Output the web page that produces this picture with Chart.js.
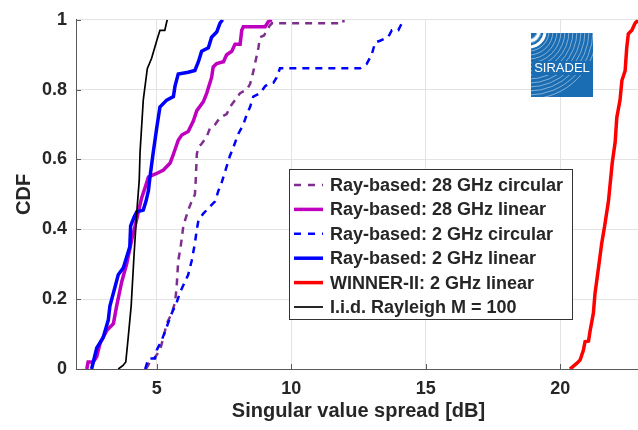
<!DOCTYPE html>
<html>
<head>
<meta charset="utf-8">
<script src="https://cdn.jsdelivr.net/npm/chart.js@4"></script>
<style>
  html, body { margin: 0; padding: 0; background: #fff; overflow: hidden; }
  #wrap { width: 642px; height: 430px; }
</style>
</head>
<body>
<div id="wrap"><canvas id="cdfChart" width="642" height="430"></canvas></div>
<script>
// Axis ticks
const xTicks = [5, 10, 15, 20];
const yTicks = [0, 0.2, 0.4, 0.6, 0.8, 1];

// Ray-based: 28 GHz circular
const ray28CircX = [4.6, 4.75, 4.95, 5.12, 5.25, 5.37, 5.56, 5.68, 5.74, 5.8, 5.89, 5.99, 6.05, 6.17, 6.3, 6.42, 6.45, 6.49, 6.55, 6.67, 6.86, 6.98, 7.17, 7.35, 7.6, 7.72, 7.91, 8.1, 8.35, 8.47, 8.57, 8.65, 8.78, 8.84, 8.99, 9.09, 9.21, 9.28, 11.94, 11.94];
const ray28CircY = [0, 0.02, 0.035, 0.054, 0.09, 0.13, 0.16, 0.19, 0.235, 0.31, 0.35, 0.41, 0.425, 0.455, 0.48, 0.5, 0.54, 0.615, 0.635, 0.645, 0.665, 0.69, 0.7, 0.72, 0.73, 0.75, 0.77, 0.79, 0.8, 0.816, 0.845, 0.873, 0.92, 0.95, 0.955, 0.97, 0.984, 0.99, 0.99, 1];

// Ray-based: 28 GHz linear
const ray28LinX = [2.4, 2.45, 2.64, 2.77, 2.9, 3.14, 3.39, 3.51, 3.7, 3.88, 4.07, 4.26, 4.44, 4.57, 4.69, 5.0, 5.25, 5.5, 5.62, 5.8, 5.93, 6.17, 6.36, 6.49, 6.73, 6.86, 7.04, 7.1, 7.23, 7.48, 7.6, 7.79, 7.91, 8.1, 8.16, 8.22, 9.03, 9.15, 9.28];
const ray28LinY = [0, 0.02, 0.02, 0.035, 0.075, 0.11, 0.13, 0.18, 0.25, 0.3, 0.37, 0.43, 0.49, 0.52, 0.55, 0.56, 0.57, 0.59, 0.615, 0.655, 0.67, 0.68, 0.71, 0.74, 0.765, 0.79, 0.835, 0.865, 0.875, 0.88, 0.9, 0.91, 0.93, 0.93, 0.97, 0.98, 0.98, 0.995, 1];

// Ray-based: 2 GHz circular
const ray2CircX = [4.57, 4.69, 4.94, 5.0, 5.19, 5.37, 5.56, 5.74, 5.87, 6.05, 6.17, 6.3, 6.42, 6.49, 6.55, 6.73, 6.98, 7.17, 7.29, 7.4, 7.48, 7.6, 7.72, 7.85, 8.03, 8.22, 8.35, 8.47, 8.59, 8.84, 9.03, 9.15, 9.34, 9.46, 9.58, 12.56, 12.8, 12.99, 13.12, 13.3, 13.6, 13.74, 13.98, 14.17];
const ray2CircY = [0, 0.03, 0.03, 0.054, 0.083, 0.12, 0.16, 0.19, 0.22, 0.25, 0.27, 0.31, 0.36, 0.4, 0.425, 0.445, 0.465, 0.48, 0.51, 0.53, 0.55, 0.58, 0.61, 0.635, 0.673, 0.7, 0.73, 0.75, 0.78, 0.79, 0.81, 0.816, 0.82, 0.835, 0.861, 0.861, 0.873, 0.9, 0.935, 0.94, 0.95, 0.97, 0.97, 1];

// Ray-based: 2 GHz linear
const ray2LinX = [2.58, 2.77, 3.01, 3.2, 3.26, 3.45, 3.57, 3.76, 3.88, 4.0, 4.03, 4.16, 4.26, 4.5, 4.6, 4.69, 4.75, 4.87, 5.0, 5.12, 5.37, 5.62, 5.68, 5.8, 6.17, 6.42, 6.55, 6.67, 6.92, 7.04, 7.23, 7.35, 7.45];
const ray2LinY = [0, 0.06, 0.09, 0.14, 0.18, 0.235, 0.27, 0.29, 0.32, 0.35, 0.41, 0.435, 0.45, 0.455, 0.48, 0.51, 0.55, 0.62, 0.69, 0.75, 0.77, 0.78, 0.81, 0.845, 0.85, 0.855, 0.88, 0.91, 0.92, 0.95, 0.965, 0.99, 1];

// WINNER-II: 2 GHz linear
const winnerX = [20.36, 20.61, 20.74, 20.86, 20.92, 21.05, 21.11, 21.23, 21.29, 21.42, 21.54, 21.65, 21.79, 21.93, 22.04, 22.1, 22.22, 22.29, 22.41, 22.47, 22.53, 22.66, 22.78, 22.9];
const winnerY = [0, 0.016, 0.026, 0.054, 0.078, 0.08, 0.11, 0.16, 0.216, 0.29, 0.36, 0.41, 0.48, 0.59, 0.65, 0.72, 0.77, 0.826, 0.854, 0.92, 0.96, 0.97, 0.99, 1];

// I.i.d. Rayleigh M = 100
const rayleighX = [3.57, 3.75, 3.85, 3.94, 4.05, 4.16, 4.26, 4.35, 4.38, 4.5, 4.65, 4.81, 5.0, 5.12, 5.3, 5.39];
const rayleighY = [0, 0.01, 0.02, 0.09, 0.18, 0.33, 0.45, 0.54, 0.62, 0.77, 0.86, 0.89, 0.94, 0.97, 0.97, 1];

const FONT = '"Liberation Sans", Arial, Helvetica, sans-serif';
const TEXT = '#262626';

function pts(xs, ys) {
  return xs.map((x, i) => ({ x: x, y: ys[i] }));
}

const series = [
  { label: 'Ray-based: 28 GHz circular', xs: ray28CircX, ys: ray28CircY, color: '#7e2f8e', width: 2.5, dash: [7, 6] },
  { label: 'Ray-based: 28 GHz linear', xs: ray28LinX, ys: ray28LinY, color: '#bf00bf', width: 3.5, dash: [] },
  { label: 'Ray-based: 2 GHz circular', xs: ray2CircX, ys: ray2CircY, color: '#0000ff', width: 2.5, dash: [7, 6] },
  { label: 'Ray-based: 2 GHz linear', xs: ray2LinX, ys: ray2LinY, color: '#0000ff', width: 3.5, dash: [] },
  { label: 'WINNER-II: 2 GHz linear', xs: winnerX, ys: winnerY, color: '#ff0000', width: 3.5, dash: [] },
  { label: 'I.i.d. Rayleigh M = 100', xs: rayleighX, ys: rayleighY, color: '#000000', width: 1.7, dash: [] }
];

// Matlab-like inward tick marks
const innerTicks = {
  id: 'innerTicks',
  afterDraw(chart) {
    const { ctx, chartArea, scales } = chart;
    ctx.save();
    ctx.strokeStyle = '#5a5a5a';
    ctx.lineWidth = 1;
    ctx.beginPath();
    yTicks.forEach(v => {
      const y = Math.round(scales.y.getPixelForValue(v)) + 0.5;
      ctx.moveTo(chartArea.left, y);
      ctx.lineTo(chartArea.left + 5, y);
    });
    xTicks.forEach(v => {
      const x = Math.round(scales.x.getPixelForValue(v)) + 0.5;
      ctx.moveTo(x, chartArea.bottom);
      ctx.lineTo(x, chartArea.bottom - 5);
    });
    ctx.stroke();
    ctx.restore();
  }
};

// Legend box drawn inside the plot, Matlab style
const insideLegend = {
  id: 'insideLegend',
  afterDraw(chart) {
    const ctx = chart.ctx;
    const x0 = 289, y0 = 169, w = 283, h = 150;
    ctx.save();
    ctx.fillStyle = '#fff';
    ctx.fillRect(x0, y0, w, h);
    ctx.strokeStyle = '#333';
    ctx.lineWidth = 1;
    ctx.strokeRect(x0 + 0.5, y0 + 0.5, w, h);
    ctx.font = 'bold 18px ' + FONT;
    ctx.textBaseline = 'middle';
    ctx.fillStyle = TEXT;
    series.forEach((s, i) => {
      const cy = y0 + 16 + i * 24.4;
      ctx.beginPath();
      ctx.strokeStyle = s.color;
      ctx.lineWidth = s.width;
      ctx.setLineDash(s.dash.length ? [7, 7] : []);
      ctx.moveTo(x0 + 5, cy);
      ctx.lineTo(x0 + 34, cy);
      ctx.stroke();
      ctx.setLineDash([]);
      ctx.fillText(s.label, x0 + 41, cy + 1);
    });
    ctx.restore();
  }
};

// Small SIRADEL logo in the upper right
const logo = {
  id: 'logo',
  afterDatasetsDraw(chart) {
    const ctx = chart.ctx;
    const lx = 531, ly = 33, lw = 62, lh = 64;
    ctx.save();
    ctx.fillStyle = '#1b6db3';
    ctx.fillRect(lx, ly, lw, lh);
    ctx.beginPath();
    ctx.rect(lx, ly, lw, lh);
    ctx.clip();
    ctx.strokeStyle = 'rgba(255,255,255,0.45)';
    ctx.lineWidth = 1;
    for (let r = 8; r < 70; r += 4) {
      ctx.beginPath();
      ctx.arc(lx - 2, ly - 2, r, 0, Math.PI / 2);
      ctx.stroke();
    }
    ctx.strokeStyle = '#fff';
    ctx.lineWidth = 3;
    ctx.beginPath();
    ctx.arc(lx - 2, ly - 2, 10, 0, Math.PI / 2);
    ctx.stroke();
    ctx.beginPath();
    ctx.arc(lx - 2, ly - 2, 16, 0, Math.PI / 2);
    ctx.stroke();
    ctx.fillStyle = '#1b6db3';
    ctx.fillRect(lx + 1, ly + 28, lw - 2, 14);
    ctx.fillStyle = '#fff';
    ctx.font = '13px ' + FONT;
    ctx.textAlign = 'center';
    ctx.textBaseline = 'middle';
    ctx.fillText('SIRADEL', lx + lw / 2, ly + 35);
    ctx.restore();
  }
};

const ctx = document.getElementById('cdfChart').getContext('2d');
new Chart(ctx, {
  type: 'line',
  data: {
    datasets: series.map((s, i) => ({
      label: s.label,
      data: pts(s.xs, s.ys),
      borderColor: s.color,
      backgroundColor: s.color,
      borderWidth: s.width,
      borderDash: s.dash,
      pointRadius: 0,
      tension: 0,
      fill: false,
      order: series.length - i
    }))
  },
  options: {
    responsive: false,
    animation: false,
    layout: { padding: { top: 19, right: 1, left: 0, bottom: 0 } },
    plugins: {
      legend: { display: false },
      tooltip: { enabled: false }
    },
    scales: {
      x: {
        type: 'linear',
        min: 2,
        max: 23,
        afterBuildTicks: (scale) => { scale.ticks = xTicks.map(v => ({ value: v })); },
        afterFit: (scale) => { scale.height = 61; },
        grid: { color: '#e3e3e3', drawTicks: false },
        border: { color: '#5a5a5a', width: 1 },
        ticks: { color: TEXT, padding: 9, maxRotation: 0, font: { family: FONT, size: 18, weight: 'bold' } },
        title: {
          display: true,
          text: 'Singular value spread [dB]',
          color: TEXT,
          padding: { top: 0, bottom: 7 },
          font: { family: FONT, size: 20, weight: 'bold' }
        }
      },
      y: {
        type: 'linear',
        min: 0,
        max: 1,
        afterBuildTicks: (scale) => { scale.ticks = yTicks.map(v => ({ value: v })); },
        afterFit: (scale) => { scale.width = 76; },
        grid: { color: '#e3e3e3', drawTicks: false },
        border: { color: '#5a5a5a', width: 1 },
        ticks: { color: TEXT, padding: 9, callback: (v) => String(v), font: { family: FONT, size: 18, weight: 'bold' } },
        title: {
          display: true,
          text: 'CDF',
          color: TEXT,
          padding: { top: 12, bottom: 0 },
          font: { family: FONT, size: 20, weight: 'bold' }
        }
      }
    }
  },
  plugins: [logo, innerTicks, insideLegend]
});
</script>
</body>
</html>
